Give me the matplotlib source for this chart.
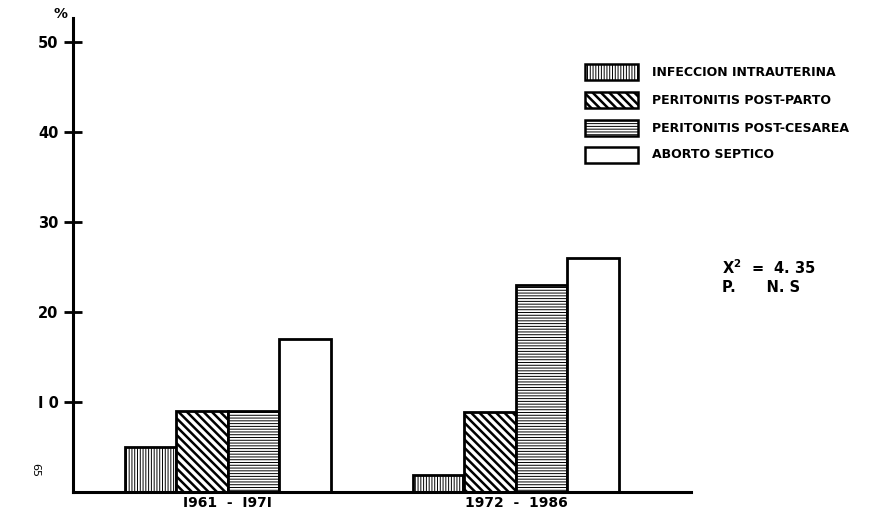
import matplotlib
matplotlib.use("Agg")
import matplotlib.pyplot as plt
from matplotlib.patches import Rectangle
import numpy as np

# data
periods = ["I961  -  I97I", "1972  -  1986"]
causes = ["INFECCION INTRAUTERINA", "PERITONITIS POST-PARTO",
          "PERITONITIS POST-CESAREA", "ABORTO SEPTICO"]
infeccion = [5, 1.9]
post_parto = [9, 8.9]
post_cesarea = [9, 23]
aborto = [17, 26]
y_ticks = [10, 20, 30, 40, 50]

series = [infeccion, post_parto, post_cesarea, aborto]
hatches = ["||||||", "\\\\\\\\", "------", ""]
hatch_lw = [0.7, 1.8, 0.7, 1.0]

W, H = 885, 516
fig = plt.figure(figsize=(W / 100, H / 100), dpi=100)
font = "DejaVu Sans"


def fx(px):
    return px / W


def fy(py):
    return 1 - py / H


ax = fig.add_axes([fx(73), fy(492), fx(691) - fx(73), fy(18) - fy(492)])
ax.set_xlim(0, 12)
ax.set_ylim(0, 52.7)

centers = np.array([3.0, 8.6])
for i, vals in enumerate(series):
    plt.rcParams["hatch.linewidth"] = hatch_lw[i]
    ax.bar(centers - 1.5 + i, vals, width=1.0, facecolor="white",
           edgecolor="black", linewidth=2, hatch=hatches[i], zorder=2)

for s in ["top", "right"]:
    ax.spines[s].set_visible(False)
for s in ["left", "bottom"]:
    ax.spines[s].set_linewidth(2.2)

ax.set_yticks(y_ticks)
ax.set_yticklabels([str(t) if t != 10 else "I 0" for t in y_ticks],
                   fontsize=10.5, fontweight="bold", family=font)
ax.tick_params(axis="y", direction="inout", length=13, width=2, pad=4)
ax.set_xticks(centers)
ax.set_xticklabels(periods, fontsize=10, fontweight="bold", family=font)
ax.tick_params(axis="x", length=0, pad=3)

fig.text(fx(60), fy(14), "%", fontsize=10, fontweight="bold", ha="center", va="center")
fig.text(fx(35), fy(470), "65", fontsize=8, rotation=-90, ha="center", va="center")

# legend drawn by hand
rows = [72, 100, 128, 155]
for i, (label, y) in enumerate(zip(causes, rows)):
    plt.rcParams["hatch.linewidth"] = hatch_lw[i]
    r = Rectangle((fx(585), fy(y + 8)), fx(53), fy(y - 8) - fy(y + 8),
                  transform=fig.transFigure, facecolor="white", edgecolor="black",
                  linewidth=1.8, hatch=hatches[i])
    fig.add_artist(r)
    fig.text(fx(652), fy(y), label, fontsize=9, fontweight="bold",
             ha="left", va="center", family=font)

fig.text(fx(722), fy(268), "X$^\\mathbf{2}$  =  4. 35", fontsize=10.5, fontweight="bold",
         ha="left", va="center", family=font)
fig.text(fx(722), fy(287), "P.      N. S", fontsize=10.5, fontweight="bold",
         ha="left", va="center", family=font)

fig.savefig("out.png", dpi=100)
